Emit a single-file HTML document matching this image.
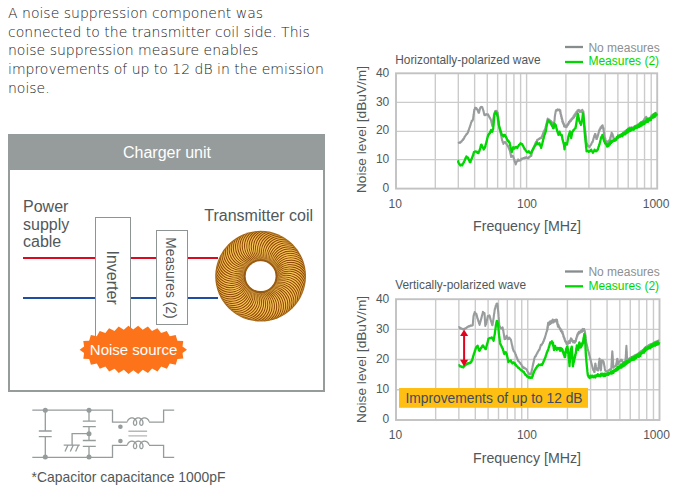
<!DOCTYPE html>
<html><head><meta charset="utf-8"><style>
html,body{margin:0;padding:0;background:#fff;}
body{width:679px;height:487px;position:relative;overflow:hidden;}
.t{position:absolute;white-space:nowrap;font-family:"Liberation Sans",Arial,sans-serif;}
#intro{position:absolute;left:8px;top:3.8px;font-family:"DejaVu Sans",sans-serif;font-weight:200;font-size:14px;line-height:18.85px;color:#222;white-space:nowrap;}
svg{position:absolute;left:0;top:0;}
</style></head><body>
<div id="intro">A noise suppression component was<br>connected to the transmitter coil side. This<br>noise suppression measure enables<br>improvements of up to 12 dB in the emission<br>noise.</div>
<svg width="679" height="487" viewBox="0 0 679 487">
<defs>
<radialGradient id="tg" cx="260.6" cy="276.2" r="45.4" gradientUnits="userSpaceOnUse">
<stop offset="0.33" stop-color="#8a4a08"/>
<stop offset="0.37" stop-color="#a86414"/>
<stop offset="0.44" stop-color="#e8a23a"/>
<stop offset="0.62" stop-color="#fdc555"/>
<stop offset="0.86" stop-color="#f0ac40"/>
<stop offset="0.96" stop-color="#c8862a"/>
<stop offset="1" stop-color="#9a5a10"/>
</radialGradient>
<mask id="tm"><rect width="679" height="487" fill="#000"/><circle cx="260.6" cy="276.2" r="45.4" fill="#fff"/><circle cx="260.6" cy="276.2" r="14.9" fill="#000"/></mask>
</defs>
<!-- charger box -->
<rect x="9" y="135" width="315" height="256" fill="none" stroke="#969c9b" stroke-width="2"/>
<rect x="8" y="134" width="317" height="36" fill="#969c9b"/>
<!-- wires -->
<g stroke-width="2" fill="none">
<path d="M23 258H95.5M130.5 258H156.5M187.5 258H218" stroke="#dc0a1e"/>
<path d="M23 298H95.5M130.5 298H156.5M187.5 298H218" stroke="#1f4ea0"/>
</g>
<rect x="95.5" y="217.5" width="35" height="130" fill="#fff" stroke="#8e9393" stroke-width="1"/>
<rect x="156.5" y="230.5" width="31" height="94" fill="#fff" stroke="#8e9393" stroke-width="1"/>
<polygon points="187.00,349.80 182.49,352.99 183.32,358.60 177.44,358.92 175.73,364.63 169.82,363.40 166.88,368.69 161.23,366.52 157.53,371.40 152.10,368.61 147.96,373.08 142.80,369.81 138.19,373.90 133.38,370.20 128.50,373.90 123.88,369.81 118.72,373.09 114.58,368.63 109.15,371.41 105.44,366.54 99.79,368.71 96.83,363.42 90.92,364.66 89.19,358.95 83.31,358.64 84.12,353.01 79.60,349.84 84.11,346.61 83.28,341.00 89.16,340.68 90.87,334.97 96.78,336.20 99.72,330.91 105.37,333.08 109.07,328.20 114.50,330.99 118.64,326.52 123.80,329.79 128.41,325.70 133.22,329.40 138.10,325.70 142.72,329.79 147.88,326.51 152.02,330.97 157.45,328.19 161.16,333.06 166.81,330.89 169.77,336.18 175.68,334.94 177.41,340.65 183.29,340.96 182.48,346.59" fill="#fc731a"/>
<!-- torus -->
<g mask="url(#tm)">
<circle cx="260.6" cy="276.2" r="45.4" fill="url(#tg)"/>
<path d="M274.50 276.20A17 17 0 0 1 304.19 260.29M274.46 277.24A17 17 0 0 1 305.25 263.59M274.34 278.27A17 17 0 0 1 306.07 266.96M274.15 279.29A17 17 0 0 1 306.63 270.39M273.88 280.30A17 17 0 0 1 306.94 273.84M273.54 281.28A17 17 0 0 1 306.99 277.31M273.12 282.23A17 17 0 0 1 306.77 280.78M272.64 283.15A17 17 0 0 1 306.30 284.21M272.08 284.03A17 17 0 0 1 305.58 287.61M271.47 284.87A17 17 0 0 1 304.60 290.94M270.79 285.65A17 17 0 0 1 303.37 294.18M270.05 286.39A17 17 0 0 1 301.91 297.33M269.27 287.07A17 17 0 0 1 300.22 300.36M268.43 287.68A17 17 0 0 1 298.30 303.25M267.55 288.24A17 17 0 0 1 296.17 305.99M266.63 288.72A17 17 0 0 1 293.85 308.57M265.68 289.14A17 17 0 0 1 291.33 310.96M264.70 289.48A17 17 0 0 1 288.65 313.16M263.69 289.75A17 17 0 0 1 285.81 315.15M262.67 289.94A17 17 0 0 1 282.83 316.93M261.64 290.06A17 17 0 0 1 279.72 318.48M260.60 290.10A17 17 0 0 1 276.51 319.79M259.56 290.06A17 17 0 0 1 273.21 320.85M258.53 289.94A17 17 0 0 1 269.84 321.67M257.51 289.75A17 17 0 0 1 266.41 322.23M256.50 289.48A17 17 0 0 1 262.96 322.54M255.52 289.14A17 17 0 0 1 259.49 322.59M254.57 288.72A17 17 0 0 1 256.02 322.37M253.65 288.24A17 17 0 0 1 252.59 321.90M252.77 287.68A17 17 0 0 1 249.19 321.18M251.93 287.07A17 17 0 0 1 245.86 320.20M251.15 286.39A17 17 0 0 1 242.62 318.97M250.41 285.65A17 17 0 0 1 239.47 317.51M249.73 284.87A17 17 0 0 1 236.44 315.82M249.12 284.03A17 17 0 0 1 233.55 313.90M248.56 283.15A17 17 0 0 1 230.81 311.77M248.08 282.23A17 17 0 0 1 228.23 309.45M247.66 281.28A17 17 0 0 1 225.84 306.93M247.32 280.30A17 17 0 0 1 223.64 304.25M247.05 279.29A17 17 0 0 1 221.65 301.41M246.86 278.27A17 17 0 0 1 219.87 298.43M246.74 277.24A17 17 0 0 1 218.32 295.32M246.70 276.20A17 17 0 0 1 217.01 292.11M246.74 275.16A17 17 0 0 1 215.95 288.81M246.86 274.13A17 17 0 0 1 215.13 285.44M247.05 273.11A17 17 0 0 1 214.57 282.01M247.32 272.10A17 17 0 0 1 214.26 278.56M247.66 271.12A17 17 0 0 1 214.21 275.09M248.08 270.17A17 17 0 0 1 214.43 271.62M248.56 269.25A17 17 0 0 1 214.90 268.19M249.12 268.37A17 17 0 0 1 215.62 264.79M249.73 267.53A17 17 0 0 1 216.60 261.46M250.41 266.75A17 17 0 0 1 217.83 258.22M251.15 266.01A17 17 0 0 1 219.29 255.07M251.93 265.33A17 17 0 0 1 220.98 252.04M252.77 264.72A17 17 0 0 1 222.90 249.15M253.65 264.16A17 17 0 0 1 225.03 246.41M254.57 263.68A17 17 0 0 1 227.35 243.83M255.52 263.26A17 17 0 0 1 229.87 241.44M256.50 262.92A17 17 0 0 1 232.55 239.24M257.51 262.65A17 17 0 0 1 235.39 237.25M258.53 262.46A17 17 0 0 1 238.37 235.47M259.56 262.34A17 17 0 0 1 241.48 233.92M260.60 262.30A17 17 0 0 1 244.69 232.61M261.64 262.34A17 17 0 0 1 247.99 231.55M262.67 262.46A17 17 0 0 1 251.36 230.73M263.69 262.65A17 17 0 0 1 254.79 230.17M264.70 262.92A17 17 0 0 1 258.24 229.86M265.68 263.26A17 17 0 0 1 261.71 229.81M266.63 263.68A17 17 0 0 1 265.18 230.03M267.55 264.16A17 17 0 0 1 268.61 230.50M268.43 264.72A17 17 0 0 1 272.01 231.22M269.27 265.33A17 17 0 0 1 275.34 232.20M270.05 266.01A17 17 0 0 1 278.58 233.43M270.79 266.75A17 17 0 0 1 281.73 234.89M271.47 267.53A17 17 0 0 1 284.76 236.58M272.08 268.37A17 17 0 0 1 287.65 238.50M272.64 269.25A17 17 0 0 1 290.39 240.63M273.12 270.17A17 17 0 0 1 292.97 242.95M273.54 271.12A17 17 0 0 1 295.36 245.47M273.88 272.10A17 17 0 0 1 297.56 248.15M274.15 273.11A17 17 0 0 1 299.55 250.99M274.34 274.13A17 17 0 0 1 301.33 253.97M274.46 275.16A17 17 0 0 1 302.88 257.08" fill="none" stroke="#8e4a06" stroke-width="1.2"/>
<g transform="rotate(2.1 260.6 276.2)"><path d="M274.50 276.20A17 17 0 0 1 304.19 260.29M274.46 277.24A17 17 0 0 1 305.25 263.59M274.34 278.27A17 17 0 0 1 306.07 266.96M274.15 279.29A17 17 0 0 1 306.63 270.39M273.88 280.30A17 17 0 0 1 306.94 273.84M273.54 281.28A17 17 0 0 1 306.99 277.31M273.12 282.23A17 17 0 0 1 306.77 280.78M272.64 283.15A17 17 0 0 1 306.30 284.21M272.08 284.03A17 17 0 0 1 305.58 287.61M271.47 284.87A17 17 0 0 1 304.60 290.94M270.79 285.65A17 17 0 0 1 303.37 294.18M270.05 286.39A17 17 0 0 1 301.91 297.33M269.27 287.07A17 17 0 0 1 300.22 300.36M268.43 287.68A17 17 0 0 1 298.30 303.25M267.55 288.24A17 17 0 0 1 296.17 305.99M266.63 288.72A17 17 0 0 1 293.85 308.57M265.68 289.14A17 17 0 0 1 291.33 310.96M264.70 289.48A17 17 0 0 1 288.65 313.16M263.69 289.75A17 17 0 0 1 285.81 315.15M262.67 289.94A17 17 0 0 1 282.83 316.93M261.64 290.06A17 17 0 0 1 279.72 318.48M260.60 290.10A17 17 0 0 1 276.51 319.79M259.56 290.06A17 17 0 0 1 273.21 320.85M258.53 289.94A17 17 0 0 1 269.84 321.67M257.51 289.75A17 17 0 0 1 266.41 322.23M256.50 289.48A17 17 0 0 1 262.96 322.54M255.52 289.14A17 17 0 0 1 259.49 322.59M254.57 288.72A17 17 0 0 1 256.02 322.37M253.65 288.24A17 17 0 0 1 252.59 321.90M252.77 287.68A17 17 0 0 1 249.19 321.18M251.93 287.07A17 17 0 0 1 245.86 320.20M251.15 286.39A17 17 0 0 1 242.62 318.97M250.41 285.65A17 17 0 0 1 239.47 317.51M249.73 284.87A17 17 0 0 1 236.44 315.82M249.12 284.03A17 17 0 0 1 233.55 313.90M248.56 283.15A17 17 0 0 1 230.81 311.77M248.08 282.23A17 17 0 0 1 228.23 309.45M247.66 281.28A17 17 0 0 1 225.84 306.93M247.32 280.30A17 17 0 0 1 223.64 304.25M247.05 279.29A17 17 0 0 1 221.65 301.41M246.86 278.27A17 17 0 0 1 219.87 298.43M246.74 277.24A17 17 0 0 1 218.32 295.32M246.70 276.20A17 17 0 0 1 217.01 292.11M246.74 275.16A17 17 0 0 1 215.95 288.81M246.86 274.13A17 17 0 0 1 215.13 285.44M247.05 273.11A17 17 0 0 1 214.57 282.01M247.32 272.10A17 17 0 0 1 214.26 278.56M247.66 271.12A17 17 0 0 1 214.21 275.09M248.08 270.17A17 17 0 0 1 214.43 271.62M248.56 269.25A17 17 0 0 1 214.90 268.19M249.12 268.37A17 17 0 0 1 215.62 264.79M249.73 267.53A17 17 0 0 1 216.60 261.46M250.41 266.75A17 17 0 0 1 217.83 258.22M251.15 266.01A17 17 0 0 1 219.29 255.07M251.93 265.33A17 17 0 0 1 220.98 252.04M252.77 264.72A17 17 0 0 1 222.90 249.15M253.65 264.16A17 17 0 0 1 225.03 246.41M254.57 263.68A17 17 0 0 1 227.35 243.83M255.52 263.26A17 17 0 0 1 229.87 241.44M256.50 262.92A17 17 0 0 1 232.55 239.24M257.51 262.65A17 17 0 0 1 235.39 237.25M258.53 262.46A17 17 0 0 1 238.37 235.47M259.56 262.34A17 17 0 0 1 241.48 233.92M260.60 262.30A17 17 0 0 1 244.69 232.61M261.64 262.34A17 17 0 0 1 247.99 231.55M262.67 262.46A17 17 0 0 1 251.36 230.73M263.69 262.65A17 17 0 0 1 254.79 230.17M264.70 262.92A17 17 0 0 1 258.24 229.86M265.68 263.26A17 17 0 0 1 261.71 229.81M266.63 263.68A17 17 0 0 1 265.18 230.03M267.55 264.16A17 17 0 0 1 268.61 230.50M268.43 264.72A17 17 0 0 1 272.01 231.22M269.27 265.33A17 17 0 0 1 275.34 232.20M270.05 266.01A17 17 0 0 1 278.58 233.43M270.79 266.75A17 17 0 0 1 281.73 234.89M271.47 267.53A17 17 0 0 1 284.76 236.58M272.08 268.37A17 17 0 0 1 287.65 238.50M272.64 269.25A17 17 0 0 1 290.39 240.63M273.12 270.17A17 17 0 0 1 292.97 242.95M273.54 271.12A17 17 0 0 1 295.36 245.47M273.88 272.10A17 17 0 0 1 297.56 248.15M274.15 273.11A17 17 0 0 1 299.55 250.99M274.34 274.13A17 17 0 0 1 301.33 253.97M274.46 275.16A17 17 0 0 1 302.88 257.08" fill="none" stroke="#ffd870" stroke-width="0.7" opacity="0.7"/></g>
<circle cx="260.6" cy="276.2" r="15.9" fill="none" stroke="#8a4a08" stroke-width="2.2" opacity="0.75"/>
<circle cx="260.6" cy="276.2" r="44.8" fill="none" stroke="#9a5a10" stroke-width="1.4" opacity="0.6"/>
</g>
<!-- schematic -->
<g stroke="#969b9b" stroke-width="1.3" fill="none">
<path d="M32.3 410.2H112.5V422.2H127.4M149 422.2H163.6V410.2H174.2"/>
<path d="M32.3 457.4H112.5V445.4H127.4M149 445.4H163.6V457.4H174.2"/>
<path d="M45.3 410.2V431M45.3 436.6V457.4M38.8 431H51.7M38.8 436.6H51.7"/>
<path d="M89 410.2V421.2M89 426.6V440.5M89 446.3V457.4M82.8 421.2H95.8M82.8 426.6H95.8M82.8 440.5H95.8M82.8 446.3H95.8"/>
<path d="M89 433.7H72.1V445.1M63.7 445.1H79.8M65 451.6L68 445.1M70.3 451.6L73.3 445.1M75.6 451.6L78.6 445.1"/>
<polyline points="127.37,421.60 127.46,421.31 127.56,421.02 127.69,420.74 127.83,420.46 127.99,420.18 128.17,419.92 128.36,419.67 128.57,419.43 128.80,419.20 129.03,418.98 129.29,418.79 129.55,418.61 129.82,418.45 130.11,418.30 130.40,418.18 130.70,418.08 131.01,418.00 131.32,417.95 131.63,417.91 131.94,417.90 132.26,417.91 132.57,417.95 132.88,418.00 133.18,418.08 133.48,418.18 133.77,418.30 134.06,418.45 134.33,418.61 134.60,418.79 134.85,418.98 135.09,419.20 135.31,419.43 135.52,419.67 135.71,419.92 135.89,420.18 136.05,420.46 136.19,420.74 136.32,421.02 136.42,421.31 136.51,421.60 136.58,421.89 136.63,422.18 136.67,422.46 136.68,422.74 136.68,423.02 136.66,423.28 136.62,423.53 136.57,423.77 136.50,424.00 136.42,424.22 136.32,424.41 136.22,424.59 136.10,424.75 135.97,424.90 135.84,425.02 135.70,425.12 135.55,425.20 135.40,425.25 135.24,425.29 135.08,425.30 134.93,425.29 134.77,425.25 134.62,425.20 134.47,425.12 134.33,425.02 134.19,424.90 134.07,424.75 133.95,424.59 133.84,424.41 133.75,424.22 133.67,424.00 133.60,423.77 133.55,423.53 133.51,423.28 133.49,423.02 133.49,422.74 133.50,422.46 133.53,422.18 133.58,421.89 133.65,421.60 133.74,421.31 133.85,421.02 133.97,420.74 134.11,420.46 134.28,420.18 134.45,419.92 134.65,419.67 134.86,419.43 135.08,419.20 135.32,418.98 135.57,418.79 135.83,418.61 136.11,418.45 136.39,418.30 136.68,418.18 136.98,418.08 137.29,418.00 137.60,417.95 137.91,417.91 138.22,417.90 138.54,417.91 138.85,417.95 139.16,418.00 139.47,418.08 139.77,418.18 140.06,418.30 140.34,418.45 140.62,418.61 140.88,418.79 141.13,418.98 141.37,419.20 141.59,419.43 141.80,419.67 142.00,419.92 142.17,420.18 142.33,420.46 142.48,420.74 142.60,421.02 142.71,421.31 142.80,421.60 142.86,421.89 142.92,422.18 142.95,422.46 142.96,422.74 142.96,423.02 142.94,423.28 142.90,423.53 142.85,423.77 142.78,424.00 142.70,424.22 142.61,424.41 142.50,424.59 142.38,424.75 142.26,424.90 142.12,425.02 141.98,425.12 141.83,425.20 141.68,425.25 141.52,425.29 141.37,425.30 141.21,425.29 141.05,425.25 140.90,425.20 140.75,425.12 140.61,425.02 140.48,424.90 140.35,424.75 140.23,424.59 140.12,424.41 140.03,424.22 139.95,424.00 139.88,423.77 139.83,423.53 139.79,423.28 139.77,423.02 139.77,422.74 139.78,422.46 139.82,422.18 139.87,421.89 139.94,421.60 140.02,421.31 140.13,421.02 140.26,420.74 140.40,420.46 140.56,420.18 140.74,419.92 140.93,419.67 141.14,419.43 141.36,419.20 141.60,418.98 141.85,418.79 142.12,418.61 142.39,418.45 142.67,418.30 142.97,418.18 143.27,418.08 143.57,418.00 143.88,417.95 144.19,417.91 144.51,417.90 144.82,417.91 145.13,417.95 145.44,418.00 145.75,418.08 146.05,418.18 146.34,418.30 146.63,418.45 146.90,418.61 147.16,418.79 147.41,418.98 147.65,419.20 147.88,419.43 148.09,419.67 148.28,419.92 148.46,420.18 148.62,420.46 148.76,420.74 148.88,421.02 148.99,421.31 149.08,421.60"/>
<polyline points="127.37,444.90 127.46,444.61 127.56,444.32 127.69,444.04 127.83,443.76 127.99,443.48 128.17,443.22 128.36,442.97 128.57,442.73 128.80,442.50 129.03,442.28 129.29,442.09 129.55,441.91 129.82,441.75 130.11,441.60 130.40,441.48 130.70,441.38 131.01,441.30 131.32,441.25 131.63,441.21 131.94,441.20 132.26,441.21 132.57,441.25 132.88,441.30 133.18,441.38 133.48,441.48 133.77,441.60 134.06,441.75 134.33,441.91 134.60,442.09 134.85,442.28 135.09,442.50 135.31,442.73 135.52,442.97 135.71,443.22 135.89,443.48 136.05,443.76 136.19,444.04 136.32,444.32 136.42,444.61 136.51,444.90 136.58,445.19 136.63,445.48 136.67,445.76 136.68,446.04 136.68,446.32 136.66,446.58 136.62,446.83 136.57,447.07 136.50,447.30 136.42,447.52 136.32,447.71 136.22,447.89 136.10,448.05 135.97,448.20 135.84,448.32 135.70,448.42 135.55,448.50 135.40,448.55 135.24,448.59 135.08,448.60 134.93,448.59 134.77,448.55 134.62,448.50 134.47,448.42 134.33,448.32 134.19,448.20 134.07,448.05 133.95,447.89 133.84,447.71 133.75,447.52 133.67,447.30 133.60,447.07 133.55,446.83 133.51,446.58 133.49,446.32 133.49,446.04 133.50,445.76 133.53,445.48 133.58,445.19 133.65,444.90 133.74,444.61 133.85,444.32 133.97,444.04 134.11,443.76 134.28,443.48 134.45,443.22 134.65,442.97 134.86,442.73 135.08,442.50 135.32,442.28 135.57,442.09 135.83,441.91 136.11,441.75 136.39,441.60 136.68,441.48 136.98,441.38 137.29,441.30 137.60,441.25 137.91,441.21 138.22,441.20 138.54,441.21 138.85,441.25 139.16,441.30 139.47,441.38 139.77,441.48 140.06,441.60 140.34,441.75 140.62,441.91 140.88,442.09 141.13,442.28 141.37,442.50 141.59,442.73 141.80,442.97 142.00,443.22 142.17,443.48 142.33,443.76 142.48,444.04 142.60,444.32 142.71,444.61 142.80,444.90 142.86,445.19 142.92,445.48 142.95,445.76 142.96,446.04 142.96,446.32 142.94,446.58 142.90,446.83 142.85,447.07 142.78,447.30 142.70,447.52 142.61,447.71 142.50,447.89 142.38,448.05 142.26,448.20 142.12,448.32 141.98,448.42 141.83,448.50 141.68,448.55 141.52,448.59 141.37,448.60 141.21,448.59 141.05,448.55 140.90,448.50 140.75,448.42 140.61,448.32 140.48,448.20 140.35,448.05 140.23,447.89 140.12,447.71 140.03,447.52 139.95,447.30 139.88,447.07 139.83,446.83 139.79,446.58 139.77,446.32 139.77,446.04 139.78,445.76 139.82,445.48 139.87,445.19 139.94,444.90 140.02,444.61 140.13,444.32 140.26,444.04 140.40,443.76 140.56,443.48 140.74,443.22 140.93,442.97 141.14,442.73 141.36,442.50 141.60,442.28 141.85,442.09 142.12,441.91 142.39,441.75 142.67,441.60 142.97,441.48 143.27,441.38 143.57,441.30 143.88,441.25 144.19,441.21 144.51,441.20 144.82,441.21 145.13,441.25 145.44,441.30 145.75,441.38 146.05,441.48 146.34,441.60 146.63,441.75 146.90,441.91 147.16,442.09 147.41,442.28 147.65,442.50 147.88,442.73 148.09,442.97 148.28,443.22 148.46,443.48 148.62,443.76 148.76,444.04 148.88,444.32 148.99,444.61 149.08,444.90"/>
</g>
<g stroke="#b4b8b8" stroke-width="1.4"><path d="M128.4 431.3H147.1M128.4 435.9H147.1"/></g>
<g fill="#969b9b">
<circle cx="45.3" cy="410.2" r="2.5"/><circle cx="89" cy="410.2" r="2.5"/>
<circle cx="45.3" cy="457" r="2.5"/><circle cx="89" cy="457" r="2.5"/>
<circle cx="89" cy="433.7" r="2.5"/>
<circle cx="120.4" cy="426.8" r="2.3"/><circle cx="120.4" cy="441" r="2.3"/>
</g>
<!-- chart 1 -->
<g stroke="#cbcbcb" stroke-width="1.4"><line x1="435.31" y1="73.3" x2="435.31" y2="188.6"/><line x1="458.31" y1="73.3" x2="458.31" y2="188.6"/><line x1="474.63" y1="73.3" x2="474.63" y2="188.6"/><line x1="487.29" y1="73.3" x2="487.29" y2="188.6"/><line x1="497.63" y1="73.3" x2="497.63" y2="188.6"/><line x1="506.37" y1="73.3" x2="506.37" y2="188.6"/><line x1="513.94" y1="73.3" x2="513.94" y2="188.6"/><line x1="520.62" y1="73.3" x2="520.62" y2="188.6"/><line x1="565.91" y1="73.3" x2="565.91" y2="188.6"/><line x1="588.91" y1="73.3" x2="588.91" y2="188.6"/><line x1="605.23" y1="73.3" x2="605.23" y2="188.6"/><line x1="617.89" y1="73.3" x2="617.89" y2="188.6"/><line x1="628.23" y1="73.3" x2="628.23" y2="188.6"/><line x1="636.97" y1="73.3" x2="636.97" y2="188.6"/><line x1="644.54" y1="73.3" x2="644.54" y2="188.6"/><line x1="651.22" y1="73.3" x2="651.22" y2="188.6"/><line x1="526.60" y1="73.3" x2="526.60" y2="188.6"/><line x1="396.0" y1="102.4" x2="657.2" y2="102.4"/><line x1="396.0" y1="131.4" x2="657.2" y2="131.4"/><line x1="396.0" y1="159.6" x2="657.2" y2="159.6"/></g><rect x="396.0" y="73.3" width="261.20" height="115.30" fill="none" stroke="#c2c2c2" stroke-width="1.9"/>
<polyline points="458.2,143.4 459.2,142.4 460.3,142.8 461.0,141.5 461.6,141.6 462.3,140.3 462.9,140.1 463.4,138.7 464.0,138.6 464.5,136.9 465.0,136.7 465.5,135.5 466.0,135.1 466.6,133.8 467.2,133.9 467.8,132.6 468.1,132.5 468.3,130.7 468.6,130.7 468.9,129.2 469.2,128.9 469.4,127.8 469.7,127.4 470.0,126.1 470.3,125.7 470.6,124.4 470.8,123.9 471.1,122.6 471.4,122.4 471.7,120.9 472.4,120.8 473.0,119.3 473.1,119.2 473.2,117.7 473.3,117.5 473.4,116.2 473.5,116.1 473.6,114.3 473.8,114.4 473.9,112.7 474.0,112.5 474.1,111.2 474.2,110.9 474.3,109.6 474.7,109.4 475.1,107.8 475.5,107.7 476.3,107.9 477.1,109.5 477.4,109.4 477.8,110.8 478.1,111.2 478.5,112.7 478.8,112.8 479.0,112.8 479.3,111.2 479.5,110.8 479.7,109.4 479.9,109.4 480.2,107.9 480.4,107.5 481.2,106.8 482.0,107.3 482.3,107.1 482.6,108.5 482.8,108.8 483.1,110.0 483.4,110.4 483.6,111.8 483.8,112.0 483.9,113.4 484.1,113.6 484.3,114.9 484.5,115.1 485.4,115.1 486.2,114.0 487.1,114.7 488.1,114.4 488.6,115.8 489.0,116.1 489.5,117.7 489.9,117.6 490.3,119.1 490.7,119.2 491.1,120.7 491.3,121.0 491.5,122.6 491.7,122.6 491.8,123.9 492.0,124.1 492.2,125.6 492.4,126.0 492.5,125.8 492.6,124.3 492.7,124.0 492.9,122.7 493.0,122.3 493.1,120.9 493.2,120.7 493.3,119.3 493.4,119.1 493.5,117.7 493.7,117.6 493.8,116.0 493.9,115.9 494.0,114.2 494.3,114.1 494.6,112.8 494.9,112.7 495.2,111.0 496.4,110.8 496.8,111.2 497.3,112.7 497.7,112.6 497.8,114.1 497.9,114.3 498.0,116.0 498.1,116.0 498.2,117.5 498.3,117.9 498.4,119.0 498.5,119.2 498.6,120.8 498.7,120.9 498.7,122.4 498.8,122.5 498.9,124.2 499.0,124.4 499.1,125.7 499.1,125.9 499.2,127.3 499.3,127.7 499.5,129.1 499.7,129.1 499.9,130.7 500.1,131.0 500.4,132.5 500.6,132.6 500.8,133.8 501.0,134.3 501.2,135.6 501.3,136.0 501.5,137.1 501.6,137.5 501.8,138.9 502.0,139.2 502.1,140.5 502.3,140.5 502.7,142.3 503.0,142.3 503.4,143.9 504.2,142.3 505.1,142.1 505.6,142.5 506.1,143.7 506.6,143.8 507.2,145.5 507.7,145.5 508.3,147.0 508.6,147.2 508.9,148.8 509.3,148.9 509.6,150.3 509.9,150.4 510.1,151.9 510.3,152.2 510.5,153.8 510.6,153.7 510.8,155.4 511.0,155.4 511.2,157.0 512.0,155.7 512.9,156.1 513.2,156.2 513.5,157.9 513.7,157.8 514.0,159.4 514.3,159.5 514.6,161.2 514.9,161.2 515.1,162.7 515.4,162.9 515.7,164.4 516.1,162.8 516.4,162.6 516.8,161.2 517.5,161.2 518.2,159.4 519.0,160.8 519.8,160.5 520.6,160.4 521.4,158.7 522.2,159.1 523.1,158.1 523.9,158.5 524.7,157.6 525.6,157.9 526.4,157.1 527.2,158.2 528.0,158.1 528.6,158.1 529.1,156.8 529.7,157.0 530.5,155.7 531.3,156.0 531.5,154.8 531.6,154.4 531.8,153.0 531.9,152.7 532.1,151.5 532.4,151.3 532.8,149.7 533.1,149.5 533.5,148.0 533.8,147.9 534.1,146.4 534.4,146.2 534.8,144.8 535.1,144.8 535.4,143.0 535.8,143.1 536.2,141.6 536.7,141.4 537.1,139.9 537.9,139.9 538.7,138.8 539.5,139.0 540.5,137.7 541.5,138.1 541.8,136.4 542.1,136.3 542.4,135.0 542.7,134.8 543.0,133.4 543.3,133.0 543.6,131.7 544.0,131.5 544.5,130.0 544.9,129.8 545.3,128.3 545.5,128.4 545.7,126.7 545.9,126.4 546.1,125.2 546.3,125.0 546.5,123.6 546.7,123.3 546.9,121.8 547.1,121.5 547.3,120.0 547.5,119.8 547.7,118.6 548.5,119.6 549.4,119.5 550.2,120.9 551.0,121.1 551.6,122.1 552.1,122.3 552.7,123.4 552.8,123.5 553.0,125.0 553.1,125.1 553.2,126.7 553.4,126.6 553.5,128.3 553.6,126.9 553.7,126.6 553.8,125.2 554.0,124.7 554.1,123.4 554.2,123.3 554.3,121.9 554.4,121.5 554.5,120.2 554.6,120.0 554.7,118.5 554.7,118.4 554.8,116.8 554.9,116.6 555.0,115.1 555.1,115.2 555.3,113.7 555.4,113.5 555.6,111.8 555.7,111.6 555.9,110.3 556.8,110.6 557.6,109.3 558.4,110.1 559.2,109.5 560.1,111.7 560.3,110.4 560.4,113.4 560.6,112.3 560.7,114.8 560.9,114.2 561.1,116.5 561.3,115.3 561.5,118.1 561.7,117.0 561.9,119.4 562.1,118.5 562.3,121.7 562.5,120.1 562.8,122.9 563.1,121.9 563.5,124.4 563.8,123.5 564.1,126.5 564.7,125.3 565.2,127.0 565.8,126.4 566.6,127.1 567.4,124.4 567.8,125.3 568.2,123.4 568.6,124.0 569.0,121.7 569.6,122.5 570.2,120.4 570.9,120.9 571.5,118.7 572.0,119.5 572.5,117.9 573.0,118.5 573.5,116.1 574.0,117.5 574.5,114.6 575.0,115.9 575.4,113.2 575.9,114.3 576.4,111.9 577.0,112.3 577.5,110.4 578.1,111.2 578.9,109.9 579.7,112.0 580.5,110.6 581.4,112.1 582.2,109.8 583.3,112.0 583.4,111.5 583.4,114.1 583.5,112.8 583.5,115.2 583.6,114.5 583.7,117.5 583.7,116.4 583.8,118.8 583.9,118.3 583.9,120.5 584.0,119.7 584.0,121.7 584.1,122.0 584.2,123.4 584.2,123.4 584.3,124.9 584.4,125.0 584.5,126.6 584.7,126.7 584.8,128.3 584.9,128.5 585.0,129.9 585.1,130.0 585.3,131.6 585.4,131.5 585.5,133.0 585.6,133.3 585.7,134.6 585.8,135.0 585.9,136.5 586.0,136.5 586.0,138.1 586.1,138.3 586.2,139.6 586.3,139.9 586.4,141.5 586.5,141.7 586.6,143.1 586.9,143.4 587.2,144.6 587.6,144.9 587.9,146.4 588.8,146.1 589.6,147.1 590.1,145.6 590.7,145.3 591.2,143.9 591.6,143.7 592.0,142.3 592.5,142.1 592.9,140.8 593.1,140.5 593.3,139.1 593.5,138.8 593.8,137.4 594.0,137.3 594.2,135.9 594.6,135.5 594.9,134.1 595.3,134.0 595.5,134.1 595.6,135.7 595.8,135.7 596.0,137.4 596.2,137.5 596.3,139.0 596.5,139.0 596.8,139.0 597.1,137.5 597.5,137.2 597.8,135.6 598.0,135.5 598.2,134.0 598.4,134.1 598.6,132.6 598.9,132.2 599.1,130.7 599.3,130.6 599.5,129.3 600.0,129.8 600.6,127.2 601.1,128.1 601.8,125.8 602.4,126.1 602.6,125.3 602.9,127.4 603.1,127.3 603.4,129.6 603.6,128.4 603.7,131.5 603.8,130.7 603.9,132.8 604.0,131.8 604.1,134.4 604.2,133.5 604.3,135.8 604.4,135.7 604.6,137.4 604.8,137.3 605.0,139.4 605.3,138.6 605.5,141.0 605.7,140.5 606.4,142.1 607.0,141.6 607.7,143.8 608.5,140.7 609.3,142.1 609.6,139.7 610.0,139.8 610.3,137.4 610.6,138.4 610.8,135.9 611.0,136.7 611.2,134.5 611.4,135.2 611.6,132.9 611.8,133.7 612.1,133.3 612.3,135.4 612.6,134.2 612.9,136.6 613.2,136.2 613.5,138.7 613.7,137.9 614.0,139.9 614.3,139.7 615.1,140.6 615.9,139.0 616.7,139.7 617.5,136.7 618.3,138.1 619.2,135.6 620.0,137.0 620.6,134.9 621.3,135.9 621.9,133.8 622.6,135.2 623.2,132.5 623.8,133.6 624.5,131.4 625.1,133.0 625.8,130.5 626.4,132.0 627.1,129.8 627.7,131.1 628.4,128.4 629.0,129.9 629.7,127.5 630.5,129.3 631.4,127.4 632.2,128.9 633.0,127.3 633.8,127.9 634.6,126.1 635.5,126.9 636.3,125.4 637.1,126.6 638.0,124.4 638.8,125.4 639.6,123.2 640.3,124.8 640.9,122.8 641.6,123.8 642.2,121.6 642.9,122.7 643.4,120.5 643.8,121.8 644.3,119.0 644.8,120.2 645.3,117.5 645.7,119.1 646.2,116.8 646.5,118.9 646.9,117.8 647.2,120.1 647.5,119.6 648.2,120.2 648.8,118.7 649.5,119.4 650.1,117.6 650.8,118.0 651.4,115.6 652.1,116.9 652.7,114.6 653.4,116.2 654.1,113.7 654.8,115.3 655.5,112.8 656.2,114.4 656.9,112.9" fill="none" stroke="#989c9c" stroke-width="2.1" stroke-linejoin="round"/>
<polyline points="457.8,160.3 458.1,160.6 458.3,162.3 458.6,162.7 459.2,163.9 459.7,164.2 460.3,165.5 461.3,164.7 462.3,165.3 462.7,163.8 463.1,163.8 463.6,162.3 464.0,162.1 464.4,160.9 464.7,160.7 465.1,159.2 465.4,159.1 465.7,157.8 466.1,157.6 466.4,156.3 467.2,157.6 468.1,157.6 468.4,159.1 468.8,159.3 469.1,160.4 469.4,160.5 469.8,162.1 470.1,162.3 470.5,162.2 470.8,160.4 471.1,160.2 471.5,158.9 471.9,158.5 472.2,157.2 472.5,157.1 472.8,155.7 473.1,155.5 473.3,154.1 473.6,153.6 473.9,152.2 474.2,152.1 475.2,151.3 476.3,151.8 477.0,151.7 477.6,153.0 478.3,153.2 478.6,153.0 479.0,151.3 479.3,151.4 479.7,149.7 480.0,149.6 480.2,148.2 480.4,148.0 480.6,146.4 480.8,146.2 481.0,144.9 481.2,144.6 481.6,144.8 482.1,146.4 482.5,146.5 482.9,147.8 483.3,148.0 483.7,149.5 484.3,148.1 484.9,147.8 485.1,146.5 485.4,146.3 485.6,144.7 485.8,144.5 486.0,143.2 486.3,142.9 486.5,141.5 486.7,141.2 486.9,140.0 487.1,139.7 487.3,138.2 487.5,137.9 487.7,136.6 487.9,136.3 488.1,135.1 488.7,134.9 489.2,133.3 489.8,133.4 490.2,131.7 490.7,131.4 491.1,129.8 491.6,131.4 492.1,131.8 492.4,131.6 492.6,129.9 492.9,129.7 493.2,128.5 493.3,128.3 493.3,126.8 493.4,126.5 493.5,125.3 493.6,124.7 493.6,123.4 493.7,123.4 493.8,121.6 493.8,121.6 493.9,120.3 494.0,119.9 494.0,118.4 494.1,118.4 494.2,116.8 494.3,116.6 494.3,115.2 494.4,115.0 494.8,113.5 495.1,113.3 495.5,111.8 496.5,113.3 496.7,113.5 497.0,114.8 497.2,115.0 497.5,116.6 497.7,116.7 497.8,118.4 497.9,118.5 498.0,120.1 498.1,120.3 498.3,121.6 498.4,121.9 498.5,123.3 498.6,123.4 498.7,124.8 498.9,125.0 499.2,126.5 499.4,126.8 499.6,128.2 499.9,128.2 500.1,129.8 500.4,130.0 500.7,131.6 501.0,131.5 501.2,133.2 501.5,133.4 501.8,134.9 502.6,134.8 503.4,136.5 504.0,134.9 504.6,134.8 505.0,135.0 505.5,136.5 505.9,136.6 506.3,137.9 506.7,138.2 507.1,139.8 507.5,139.8 508.0,141.3 508.6,141.0 509.1,142.4 509.6,142.3 509.8,143.8 509.9,144.1 510.1,145.4 510.3,145.7 510.5,147.2 510.6,147.2 510.8,148.7 511.1,148.9 511.4,150.2 511.6,150.5 511.9,152.1 512.2,150.6 512.4,150.3 512.7,148.9 512.9,148.7 513.2,147.2 514.5,148.6 515.1,147.4 515.7,147.1 516.5,146.8 517.3,148.0 517.9,146.4 518.4,146.4 519.0,144.8 519.8,144.5 520.6,143.2 521.5,144.2 522.3,144.1 522.7,145.5 523.1,145.7 523.5,147.0 523.9,147.3 524.4,148.9 525.0,149.1 525.5,150.4 526.1,150.7 526.6,151.9 527.2,152.2 528.0,152.3 528.8,151.2 529.4,152.6 529.9,152.4 530.5,153.6 531.0,152.3 531.6,152.1 532.1,150.5 532.5,150.3 533.0,148.9 533.4,148.9 533.8,147.2 534.3,147.0 534.9,145.6 535.4,145.5 536.0,144.0 536.5,143.9 537.1,142.3 537.5,144.0 537.9,144.0 538.7,144.3 539.5,143.2 539.8,144.7 540.2,144.9 540.5,146.3 540.9,146.5 541.2,147.9 541.4,146.6 541.6,146.2 541.9,144.8 542.1,144.6 542.3,143.4 542.5,143.1 542.7,141.6 542.9,141.5 543.1,139.9 543.3,139.7 543.5,138.1 543.7,138.2 543.9,136.7 544.1,136.3 544.4,134.9 544.7,134.9 545.0,133.3 545.2,133.3 545.5,131.7 545.8,131.6 545.9,130.1 546.1,129.8 546.2,128.4 546.3,128.2 546.5,126.8 546.6,126.7 546.8,125.2 546.9,124.8 547.1,123.5 547.4,123.4 547.6,121.8 547.9,121.5 548.1,120.1 549.4,121.8 549.9,121.7 550.5,123.2 551.0,123.4 551.4,124.9 551.9,125.3 552.3,126.7 552.7,126.7 553.1,128.1 553.5,128.2 553.6,128.0 553.8,126.8 553.9,126.4 554.0,125.2 554.2,124.8 554.3,123.4 555.6,124.9 555.8,125.2 556.0,126.4 556.2,126.8 556.4,128.3 556.6,128.3 556.8,129.7 557.1,129.9 557.3,131.5 557.6,131.7 557.9,133.2 558.1,133.3 558.4,134.9 558.8,133.3 559.2,133.2 559.6,131.7 559.9,133.2 560.1,133.4 560.4,134.8 560.6,135.0 561.7,134.9 561.8,135.1 562.0,136.6 562.1,136.6 562.2,138.2 562.4,138.2 562.5,139.9 562.7,139.8 563.0,141.3 563.2,141.6 563.4,143.0 563.7,143.1 563.9,144.7 564.0,144.9 564.1,146.1 564.2,146.6 564.3,147.7 564.4,148.2 564.5,149.4 564.6,148.2 564.7,147.8 564.8,146.4 564.9,146.3 565.0,144.6 565.1,144.8 565.2,143.1 565.3,143.2 565.8,143.3 566.4,144.5 566.9,144.6 567.0,144.6 567.2,143.2 567.3,143.1 567.5,141.5 567.6,141.3 567.8,139.9 567.9,139.6 568.1,138.4 568.2,138.1 568.4,136.4 568.5,136.6 568.8,134.9 569.1,134.9 569.3,133.4 569.6,133.1 569.9,131.5 570.1,133.2 570.3,133.2 570.5,134.6 570.6,135.0 570.8,136.4 571.0,136.5 571.2,138.1 571.4,136.5 571.5,136.3 571.7,135.0 571.8,134.9 572.0,133.1 572.1,133.1 572.3,131.8 572.9,131.5 573.4,130.0 574.0,129.8 574.8,128.5 575.6,128.2 575.7,126.7 575.9,126.4 576.0,125.1 576.1,125.0 576.3,123.3 576.4,123.1 576.5,121.8 576.7,121.4 576.8,120.0 576.9,120.0 577.0,118.6 577.2,118.3 577.3,116.8 577.4,116.7 577.5,115.3 577.7,115.0 577.8,113.6 578.0,115.2 578.2,115.3 578.3,116.7 578.5,116.9 578.7,118.2 578.9,118.5 579.0,119.9 579.2,120.2 579.4,121.6 579.8,121.9 580.2,123.4 580.6,123.5 581.0,124.9 581.2,123.4 581.4,123.3 581.6,121.8 581.8,121.7 582.0,120.3 582.2,120.1 582.3,118.7 582.4,118.3 582.5,116.8 582.6,116.9 582.7,115.2 582.8,115.0 582.9,113.6 583.0,113.3 583.1,113.5 583.2,115.0 583.3,115.4 583.4,116.8 583.5,116.9 583.6,118.4 583.7,118.6 583.8,120.2 583.9,120.2 583.9,121.8 584.0,121.9 584.0,123.3 584.1,123.5 584.1,125.0 584.2,125.0 584.2,126.5 584.3,126.7 584.4,128.3 584.4,128.4 584.5,129.9 584.5,130.0 584.6,131.6 584.6,131.7 584.7,133.1 584.8,133.5 584.9,134.9 584.9,134.8 585.0,136.4 585.1,136.4 585.2,138.2 585.3,138.3 585.3,139.8 585.4,139.9 585.5,141.3 585.6,141.6 585.7,142.9 585.8,143.3 585.9,144.5 586.0,144.9 586.0,146.2 586.1,146.6 586.2,147.8 586.3,148.0 586.4,149.5 586.5,149.8 586.6,151.3 587.7,150.8 588.8,151.9 589.6,150.9 590.4,151.1 591.2,149.6 591.8,151.4 592.3,151.4 592.9,152.8 593.4,151.5 594.0,151.4 594.5,149.7 595.4,151.2 596.2,151.3 596.7,151.1 597.3,149.7 597.8,149.7 598.1,148.2 598.4,147.9 598.6,146.5 598.9,146.4 599.2,144.7 599.5,144.7 599.7,143.2 599.9,142.8 600.1,141.5 600.3,141.3 600.5,139.9 600.7,139.5 600.9,138.1 601.1,138.0 601.5,136.6 602.0,136.5 602.4,134.8 602.6,136.5 602.9,136.6 603.1,138.2 603.4,138.3 603.6,139.9 603.9,140.1 604.2,141.5 604.6,141.5 604.9,143.0 605.2,143.0 605.8,144.4 606.5,143.9 607.1,146.6 607.7,144.8 608.5,146.1 609.3,143.1 609.9,144.6 610.4,141.4 611.0,143.0 611.8,140.7 612.6,141.7 613.5,140.1 614.3,140.7 615.1,138.9 615.9,140.0 616.7,137.2 617.5,137.9 618.1,135.5 618.8,136.7 620.0,135.2 620.8,136.3 621.6,134.1 622.4,136.2 623.2,133.1 623.8,134.6 624.5,132.7 625.1,134.4 625.8,131.6 626.4,133.3 627.1,130.0 627.7,132.6 628.4,128.8 629.0,131.6 629.7,128.6 630.5,130.9 631.4,128.0 632.2,129.7 633.0,128.1 633.8,129.7 634.6,126.9 635.5,128.2 636.3,125.9 637.1,127.8 638.0,125.2 638.8,127.1 639.6,124.1 640.3,126.2 640.9,122.5 641.6,125.7 642.2,122.4 642.9,124.6 643.7,121.5 644.5,123.9 645.4,121.1 646.2,122.3 647.0,119.1 647.9,121.9 648.7,118.6 649.5,120.5 650.1,118.3 650.8,120.2 651.4,117.1 652.1,117.9 652.7,115.3 653.4,117.6 654.1,114.1 654.8,117.0 655.5,113.1 656.2,115.5 656.9,113.9" fill="none" stroke="#00d600" stroke-width="2.3" stroke-linejoin="round"/>
<line x1="565" y1="47" x2="583" y2="47" stroke="#878c8c" stroke-width="2.3"/>
<line x1="565" y1="62" x2="583" y2="62" stroke="#00d600" stroke-width="2.3"/>
<!-- chart 2 -->
<g stroke="#cbcbcb" stroke-width="1.4"><line x1="435.66" y1="299.2" x2="435.66" y2="420.0"/><line x1="458.86" y1="299.2" x2="458.86" y2="420.0"/><line x1="475.32" y1="299.2" x2="475.32" y2="420.0"/><line x1="488.09" y1="299.2" x2="488.09" y2="420.0"/><line x1="498.52" y1="299.2" x2="498.52" y2="420.0"/><line x1="507.34" y1="299.2" x2="507.34" y2="420.0"/><line x1="514.98" y1="299.2" x2="514.98" y2="420.0"/><line x1="521.72" y1="299.2" x2="521.72" y2="420.0"/><line x1="567.41" y1="299.2" x2="567.41" y2="420.0"/><line x1="590.61" y1="299.2" x2="590.61" y2="420.0"/><line x1="607.07" y1="299.2" x2="607.07" y2="420.0"/><line x1="619.84" y1="299.2" x2="619.84" y2="420.0"/><line x1="630.27" y1="299.2" x2="630.27" y2="420.0"/><line x1="639.09" y1="299.2" x2="639.09" y2="420.0"/><line x1="646.73" y1="299.2" x2="646.73" y2="420.0"/><line x1="653.47" y1="299.2" x2="653.47" y2="420.0"/><line x1="527.75" y1="299.2" x2="527.75" y2="420.0"/><line x1="396.0" y1="329.4" x2="659.5" y2="329.4"/><line x1="396.0" y1="359.5" x2="659.5" y2="359.5"/><line x1="396.0" y1="389.8" x2="659.5" y2="389.8"/></g><rect x="396.0" y="299.2" width="263.50" height="120.80" fill="none" stroke="#c2c2c2" stroke-width="1.9"/>
<polyline points="458.5,327.3 459.2,327.1 460.0,328.3 460.7,327.9 461.5,328.8 462.4,328.7 463.2,329.5 464.0,328.7 464.8,329.0 465.6,328.1 466.4,328.1 467.3,326.9 468.1,326.9 468.9,326.0 469.7,326.5 470.5,325.4 471.6,325.8 472.7,325.3 472.8,324.9 472.8,323.4 472.9,323.5 473.0,321.8 473.1,321.8 473.1,320.1 473.2,320.2 473.3,318.5 473.4,318.3 473.4,316.8 473.5,316.7 473.7,315.2 474.0,315.1 474.2,313.6 474.5,313.4 474.7,312.0 475.5,313.4 476.3,313.8 476.5,315.3 476.8,315.2 477.0,316.9 477.2,316.9 477.4,318.4 477.7,318.5 477.9,319.9 478.2,320.1 478.5,321.7 478.8,322.0 479.0,323.3 479.3,323.5 479.6,324.9 479.8,323.6 480.0,323.4 480.3,321.9 480.5,321.6 480.7,320.3 480.9,320.0 481.2,318.7 481.4,318.3 481.6,317.0 481.8,316.6 482.0,315.3 482.2,315.3 482.5,313.7 482.7,313.5 482.9,311.8 483.7,312.9 484.5,313.0 484.6,314.5 484.6,314.4 484.7,316.0 484.7,316.3 484.8,317.6 484.8,317.7 484.9,319.4 484.9,319.3 485.0,320.8 485.0,321.0 485.1,322.5 485.1,322.6 485.2,324.1 485.2,324.2 485.3,325.9 485.8,324.2 486.2,324.0 486.4,322.6 486.6,322.5 486.7,321.0 486.9,320.8 487.1,319.3 487.3,319.1 487.4,317.8 487.6,317.4 487.8,316.0 488.6,316.2 489.5,315.4 489.7,316.6 490.0,316.9 490.2,318.4 490.4,318.6 490.6,319.9 490.9,320.3 491.1,321.7 491.4,322.0 491.6,323.2 491.9,323.4 492.1,324.9 492.4,325.2 492.5,324.9 492.7,323.5 492.8,323.2 492.9,321.9 493.1,321.7 493.2,320.1 493.3,319.9 493.5,318.7 493.6,318.4 493.7,316.8 493.8,316.8 493.9,315.3 494.0,315.2 494.1,313.7 494.3,313.3 494.4,312.0 494.5,312.0 494.6,310.3 494.7,310.1 494.9,308.7 495.1,308.7 495.4,307.2 495.6,306.9 495.8,305.5 496.0,305.1 496.6,303.8 497.3,303.5 497.4,303.8 497.5,305.1 497.6,305.5 497.7,306.8 497.8,307.0 497.8,308.6 497.9,308.9 498.0,310.3 498.1,310.5 498.2,311.8 498.3,312.0 498.3,313.4 498.4,313.7 498.5,315.1 498.5,315.4 498.6,316.9 498.7,317.1 498.7,318.5 498.8,318.7 498.8,320.0 498.9,320.3 499.0,321.5 499.0,322.0 499.1,323.3 499.2,323.5 499.2,325.1 499.3,325.0 499.7,326.5 500.1,326.8 500.6,328.2 501.0,328.4 501.8,328.6 502.6,327.4 502.8,329.1 503.0,329.4 503.2,330.5 503.4,331.0 503.5,332.5 503.6,332.7 503.8,334.0 503.9,334.2 504.0,335.6 504.1,335.7 504.2,337.2 504.4,337.4 504.5,339.1 504.6,339.0 505.2,339.0 505.9,337.3 506.2,337.3 506.6,335.8 507.0,337.4 507.3,337.4 507.6,339.1 508.0,339.3 508.6,338.8 509.1,337.5 509.7,338.8 510.2,338.6 510.8,339.8 511.0,339.8 511.2,341.4 511.4,341.8 511.5,342.9 511.7,343.4 511.9,344.8 512.1,345.0 512.3,346.4 512.5,346.4 512.6,348.2 512.8,348.0 513.0,349.6 513.2,349.7 513.8,351.4 514.3,351.4 514.9,352.9 515.2,353.0 515.5,354.4 515.9,354.8 516.2,356.4 516.5,356.4 516.8,357.8 517.2,357.9 517.5,359.5 517.9,359.8 518.2,361.0 519.0,361.4 519.8,362.8 520.3,362.8 520.9,364.3 521.4,364.5 522.0,366.2 522.5,366.3 523.1,367.9 523.9,367.4 524.7,368.5 525.5,368.4 526.4,369.3 526.8,369.4 527.2,371.0 527.6,371.3 528.0,372.6 528.6,372.8 529.1,374.2 529.7,374.4 531.0,374.2 531.2,372.7 531.4,372.5 531.5,371.3 531.7,371.0 531.9,369.6 532.1,369.5 532.3,367.9 532.4,367.7 532.6,366.1 532.8,366.0 533.0,364.5 533.1,364.5 533.3,363.0 533.5,363.0 533.7,361.5 533.9,361.3 534.0,359.8 534.2,359.6 534.4,358.1 534.6,357.7 535.1,356.4 535.7,356.4 536.2,354.9 536.6,354.6 537.0,353.1 537.5,352.9 537.9,351.5 538.4,351.1 539.0,349.8 539.5,349.7 539.8,348.2 540.0,347.9 540.3,346.7 540.5,346.4 540.8,344.9 541.6,344.9 542.5,343.2 542.9,343.0 543.2,341.5 543.6,341.6 543.9,339.8 544.2,339.9 544.5,338.2 544.8,338.2 545.1,336.6 545.3,336.5 545.6,335.1 545.8,334.7 546.1,333.3 546.3,333.2 546.5,331.9 546.8,331.6 547.0,330.1 547.2,330.8 547.4,327.3 547.5,329.6 547.6,326.1 547.8,327.9 547.9,324.3 548.0,325.9 548.1,322.7 548.9,325.0 549.7,321.6 550.4,324.0 551.2,320.9 551.9,322.8 552.7,319.6 553.5,322.5 554.3,320.0 555.1,321.5 556.0,319.5 556.8,321.6 557.0,319.8 557.2,323.7 557.3,321.2 557.5,324.9 557.7,323.6 557.9,326.8 558.5,325.1 559.2,327.6 559.6,327.3 560.0,329.3 560.5,328.8 560.9,331.1 561.4,329.9 562.0,332.7 562.5,331.6 562.8,334.4 563.1,333.9 563.4,336.7 563.6,335.7 563.9,337.5 564.2,337.3 564.4,339.1 564.7,338.7 564.9,340.9 565.3,340.5 565.8,342.4 566.2,341.7 566.6,344.1 567.4,342.5 568.2,343.7 569.0,341.0 569.9,343.0 570.2,340.0 570.5,341.4 570.9,338.2 571.2,339.9 571.6,338.9 571.9,340.7 572.3,340.1 573.1,342.4 574.0,341.0 574.8,342.7 575.6,340.5 575.8,341.4 576.1,338.6 576.3,339.4 576.6,337.1 576.8,337.7 577.1,335.1 577.3,336.3 577.8,333.2 578.4,334.4 578.9,331.8 579.7,333.0 580.5,331.0 581.1,332.1 581.6,329.7 582.2,331.8 583.0,328.9 583.8,330.0 584.1,329.0 584.4,331.2 584.7,330.8 585.0,332.4 585.1,332.7 585.2,334.1 585.3,334.2 585.4,335.7 585.5,335.8 585.6,337.2 585.7,337.5 585.8,338.9 585.9,339.3 586.0,340.7 586.1,340.9 586.2,342.1 586.3,342.3 586.5,344.0 586.7,344.0 586.9,345.5 587.1,345.8 587.3,347.0 587.5,347.3 587.7,348.7 587.9,349.1 588.1,350.6 588.3,350.8 588.5,352.1 588.8,352.2 589.0,353.8 589.2,354.1 589.4,355.5 589.6,355.6 589.8,357.1 590.0,357.1 590.2,358.8 590.4,358.8 590.6,360.4 590.8,360.5 591.0,362.0 591.2,362.1 591.4,363.7 591.6,363.8 591.8,365.1 592.0,365.3 592.3,366.8 592.5,367.1 592.7,368.4 592.9,368.7 593.3,370.1 593.7,370.2 594.1,371.8 594.5,372.0 594.6,371.9 594.6,370.4 594.7,370.2 594.8,368.6 594.9,368.6 594.9,367.0 595.0,367.0 595.1,365.4 595.2,365.3 595.2,363.9 595.3,363.5 595.5,363.8 595.6,365.3 595.8,365.3 596.0,366.7 596.2,367.1 596.3,368.6 596.5,368.7 597.3,370.3 598.1,370.5 598.2,370.3 598.3,368.8 598.4,368.6 598.5,367.3 598.6,366.9 598.7,365.3 598.8,365.4 598.8,363.8 598.9,363.6 599.0,362.3 599.1,362.1 599.2,360.6 599.3,360.4 599.4,358.9 599.5,358.7 599.6,358.8 599.7,360.2 599.8,360.4 599.8,361.9 599.9,362.0 600.0,363.7 600.1,363.8 600.2,365.4 600.3,365.5 600.4,366.9 600.5,367.2 600.5,368.7 600.6,368.7 600.7,370.1 600.8,370.5 600.9,370.2 601.0,368.6 601.1,368.7 601.1,367.1 601.2,366.7 601.3,365.3 601.4,365.2 601.5,363.7 601.6,363.6 601.6,362.0 601.7,361.8 601.8,360.4 601.9,360.4 602.8,360.6 603.6,361.9 603.7,362.2 603.9,363.6 604.0,363.6 604.2,365.3 604.3,365.4 604.5,366.9 604.6,367.2 604.8,368.5 604.9,368.9 605.1,370.3 605.2,370.5 606.0,371.4 606.9,371.3 607.7,371.3 608.5,370.3 609.3,370.1 610.3,369.1 611.3,369.4 611.3,367.7 611.4,367.8 611.4,366.0 611.5,365.9 611.5,364.5 611.6,364.5 611.6,363.1 611.7,362.7 611.7,361.4 611.8,361.2 611.8,359.6 611.8,359.6 611.9,358.0 611.9,357.7 612.0,356.3 612.0,356.2 612.1,354.9 612.1,354.6 612.2,353.2 612.2,352.9 612.3,351.5 612.3,351.4 612.4,351.6 612.4,352.9 612.5,353.2 612.5,354.7 612.6,354.7 612.6,356.2 612.7,356.3 612.7,357.9 612.8,358.2 612.8,359.4 612.9,359.7 613.0,361.3 613.0,361.3 613.1,362.6 613.1,362.9 613.2,364.5 613.2,364.6 613.3,366.0 613.3,366.3 613.4,367.8 614.2,366.6 615.1,366.5 615.9,365.3 616.1,365.3 616.2,364.0 616.4,363.9 616.6,362.4 616.7,362.1 616.9,360.6 617.1,360.6 617.2,358.9 617.4,358.8 617.5,359.2 617.6,360.9 617.6,361.0 617.7,362.7 617.8,362.9 617.9,364.5 618.4,362.8 619.0,362.7 619.5,361.2 620.2,361.2 620.8,359.7 621.5,359.9 621.8,359.8 622.2,361.4 622.5,361.4 622.9,362.9 623.2,363.0 623.8,362.9 624.4,361.8 624.9,361.7 625.5,360.3 625.5,360.1 625.6,358.7 625.6,358.6 625.7,357.3 625.8,356.9 625.8,355.5 625.9,355.4 625.9,354.1 626.0,353.8 626.0,352.2 626.0,352.2 626.1,350.7 626.1,350.6 626.2,349.3 626.2,349.1 626.3,347.7 626.4,347.3 626.4,345.9 626.4,347.5 626.5,347.7 626.5,349.2 626.6,349.3 626.6,350.5 626.7,350.8 626.7,352.3 626.8,352.3 626.8,353.9 626.8,354.0 626.9,355.6 626.9,355.7 627.0,357.2 627.0,357.3 627.1,358.5 627.1,358.7 627.2,360.3 627.2,360.3 627.8,360.3 628.5,359.0 629.1,359.2 629.7,358.1 630.5,358.1 631.4,357.0 632.2,357.2 633.0,356.4 633.8,356.5 634.6,355.3 635.5,355.8 636.3,354.6 637.0,354.9 637.6,353.8 638.3,353.9 638.9,352.8 639.6,353.0 640.3,351.5 640.9,351.7 641.6,350.7 642.2,350.8 642.9,349.9 643.6,349.9 644.2,348.5 644.9,348.4 645.5,347.1 646.2,347.0 647.0,346.1 647.9,346.3 648.7,345.1 649.5,345.3 650.3,344.2 651.1,344.5 651.9,343.7 652.7,343.8 653.5,342.9 654.4,342.8 655.2,341.8 656.0,342.1 656.8,341.2 657.6,341.3 658.5,340.4 659.3,340.2" fill="none" stroke="#989c9c" stroke-width="2.1" stroke-linejoin="round"/>
<polyline points="458.5,365.1 459.2,365.1 460.0,366.4 460.7,366.1 461.5,367.0 462.4,366.7 463.2,367.5 463.8,366.2 464.4,366.3 465.0,365.1 465.6,365.2 466.4,363.9 467.3,364.0 468.1,363.1 468.9,363.6 469.7,362.7 470.5,363.0 470.9,361.7 471.4,361.8 471.8,360.5 472.2,360.3 472.4,358.8 472.7,358.6 472.9,357.1 473.1,356.9 473.3,355.6 473.6,355.2 473.8,354.0 474.1,353.9 474.4,352.3 474.6,352.3 474.9,350.7 475.2,350.5 475.5,348.9 475.7,348.9 476.0,347.5 476.3,347.3 477.6,345.6 477.9,347.0 478.2,347.5 478.5,349.0 478.7,349.0 479.0,350.4 479.3,350.7 479.8,350.4 480.2,348.9 480.7,348.9 481.2,347.5 481.8,347.3 482.3,345.9 482.9,345.4 483.4,345.9 484.0,347.3 484.5,347.5 485.1,348.8 485.8,349.1 486.0,348.8 486.2,347.3 486.4,347.2 486.6,345.7 486.8,345.5 487.0,344.1 487.2,343.9 487.5,342.6 487.7,342.2 487.9,340.9 488.1,340.7 488.4,338.9 488.6,338.8 489.5,338.0 490.3,338.2 491.9,337.4 492.5,338.8 493.0,339.1 493.6,340.8 493.8,339.2 493.9,338.9 494.1,337.5 494.2,337.5 494.4,335.9 494.5,335.6 494.7,334.3 494.8,334.1 494.9,332.6 495.0,332.3 495.1,330.9 495.2,330.6 495.4,329.3 495.5,329.3 495.6,327.6 495.7,327.4 495.8,325.9 495.9,325.8 496.0,324.5 496.2,324.0 496.4,322.8 496.5,322.4 496.7,321.1 496.9,321.0 497.2,321.1 497.4,322.4 497.7,322.6 498.0,324.3 498.1,324.4 498.2,325.9 498.2,326.0 498.3,327.4 498.4,327.6 498.5,329.2 498.5,329.1 498.6,330.7 498.7,330.8 498.8,332.3 498.8,332.6 498.9,334.2 499.0,334.2 499.1,335.7 499.2,335.9 499.3,337.5 499.4,337.4 499.5,338.9 499.6,339.0 499.7,340.6 499.8,340.8 499.9,342.2 500.0,342.6 500.1,343.8 500.5,344.0 501.0,345.4 501.4,345.8 501.8,347.2 502.2,347.4 502.5,348.8 502.9,348.9 503.1,350.4 503.4,350.7 503.6,352.0 503.8,352.4 504.1,353.6 504.3,354.0 504.7,353.8 505.2,352.4 505.6,352.2 506.0,352.4 506.3,353.8 506.7,353.8 506.9,355.3 507.1,355.4 507.2,357.0 507.4,357.1 507.6,358.5 507.8,358.8 507.9,360.2 508.1,360.5 508.3,362.1 509.1,360.9 510.0,361.2 510.8,360.4 511.3,362.1 511.9,362.1 512.4,363.5 513.2,362.4 514.0,362.8 514.6,362.8 515.1,364.6 515.7,364.5 516.5,366.2 517.3,366.4 518.1,367.8 519.0,367.9 519.8,369.2 520.6,369.6 521.5,370.7 522.3,370.5 523.1,371.8 523.9,371.9 524.4,373.5 525.0,373.6 525.5,375.1 526.4,375.1 527.2,376.6 528.0,376.5 528.8,377.7 529.6,377.1 530.5,377.8 531.3,377.1 532.1,377.8 532.4,376.0 532.7,376.1 533.0,374.4 533.2,374.3 533.5,372.8 533.8,372.6 534.2,371.0 534.6,370.8 535.0,369.6 535.4,369.5 536.0,367.8 536.5,367.8 537.1,366.1 537.9,366.1 538.7,364.5 540.3,365.2 541.1,364.4 542.0,365.1 542.4,363.8 542.8,363.6 543.2,362.0 543.6,361.9 543.9,360.4 544.3,360.4 544.6,358.8 545.0,358.5 545.3,357.3 545.6,357.1 545.8,355.6 546.1,355.3 546.4,353.9 546.6,353.6 546.9,352.4 547.2,352.0 547.6,350.7 547.9,350.6 548.3,349.1 548.6,348.7 548.8,347.2 549.1,347.2 549.3,345.9 549.5,345.6 549.7,344.0 550.0,343.9 550.2,342.3 551.0,343.1 551.9,341.3 552.5,343.9 553.0,342.6 553.1,345.5 553.3,344.6 553.4,346.8 553.6,345.8 553.7,348.5 553.9,347.5 554.0,350.2 554.4,347.3 554.7,348.5 555.1,346.0 555.7,348.9 556.2,347.8 556.8,349.9 557.6,347.9 558.4,349.1 559.2,348.0 560.1,350.8 560.9,348.0 561.6,349.4 561.9,348.7 562.3,351.1 562.6,349.9 563.0,352.7 563.3,351.6 563.6,354.2 563.8,352.9 564.1,355.6 564.4,354.7 564.6,357.1 564.9,356.6 565.0,357.2 565.2,355.3 565.3,356.0 565.4,352.9 565.5,354.1 565.7,351.8 565.8,352.6 565.9,349.9 566.1,350.9 566.2,348.5 566.6,349.8 567.0,346.7 567.4,347.7 567.5,346.5 567.6,349.9 567.8,348.5 567.9,350.6 568.0,350.2 568.1,353.1 568.3,352.0 568.4,354.0 568.5,353.0 568.6,355.6 568.7,354.6 568.7,357.3 568.8,356.7 568.9,359.3 569.0,358.6 569.0,361.1 569.1,359.9 569.2,362.8 569.3,361.3 569.3,363.7 569.4,362.9 569.5,366.1 569.6,363.4 569.6,364.3 569.7,361.8 569.8,362.6 569.9,359.7 569.9,360.8 570.0,358.2 570.1,358.9 570.1,356.3 570.2,357.8 570.3,354.7 570.3,355.6 570.4,353.1 570.5,354.0 570.6,351.7 570.6,352.5 570.7,349.7 570.9,350.7 571.1,348.5 571.4,349.4 571.6,346.9 571.8,347.4 571.8,346.6 571.9,349.9 571.9,348.6 572.0,351.5 572.0,350.3 572.1,352.5 572.1,351.8 572.1,354.8 572.2,353.1 572.2,356.2 572.3,355.5 572.3,357.6 572.4,357.1 572.4,358.9 572.5,358.4 572.5,360.7 572.5,360.3 572.6,362.6 572.6,361.3 572.7,364.7 572.7,362.8 572.8,365.8 572.8,365.2 573.0,366.3 573.2,363.3 573.4,364.1 573.6,361.2 573.8,362.6 574.0,359.4 574.2,361.1 574.4,357.8 574.6,358.9 574.8,356.2 575.0,357.6 575.2,354.7 575.4,355.7 575.6,353.5 575.7,354.1 575.8,352.0 576.0,353.1 576.1,350.4 576.2,350.8 576.3,348.2 576.4,349.1 576.6,347.0 576.7,347.5 576.8,345.4 577.1,347.3 577.5,346.5 577.8,349.5 578.1,348.6 578.3,349.8 578.4,346.7 578.6,347.5 578.8,344.6 578.9,345.8 579.1,343.1 579.2,344.7 579.4,342.3 579.6,344.8 579.8,343.5 580.0,346.1 580.1,344.7 580.3,347.7 580.5,347.0 580.9,347.3 581.3,344.7 581.7,346.1 582.1,343.2 582.6,344.6 583.0,341.3 583.1,343.2 583.3,339.7 583.4,341.2 583.5,338.1 583.6,339.3 583.8,337.2 583.9,338.0 584.0,335.7 584.2,336.7 584.3,333.8 584.6,336.2 585.0,335.5 585.0,337.8 585.1,336.9 585.1,339.9 585.1,339.0 585.2,341.0 585.2,340.4 585.3,343.3 585.3,341.9 585.3,344.4 585.4,343.0 585.4,346.0 585.4,345.2 585.5,347.6 585.5,347.0 585.5,349.6 585.6,348.6 585.6,351.0 585.7,349.9 585.7,352.9 585.7,351.4 585.8,354.3 585.8,352.8 585.9,356.4 585.9,354.5 586.0,357.1 586.1,357.2 586.2,358.6 586.2,358.7 586.3,360.3 586.4,360.4 586.4,361.9 586.5,362.2 586.6,363.5 586.7,363.7 586.7,365.2 586.8,365.5 586.9,367.0 587.0,367.0 587.1,368.7 587.2,368.7 587.3,370.1 587.3,370.2 587.4,371.7 587.5,372.0 587.6,373.6 587.7,373.5 587.8,375.1 587.9,375.1 588.5,376.8 589.0,376.2 589.6,378.1 590.4,375.6 591.3,377.2 592.1,375.6 593.3,377.4 594.5,375.7 595.3,377.5 596.2,375.3 597.0,376.1 597.8,374.1 598.7,376.1 599.5,374.9 600.3,376.2 601.1,373.7 601.9,375.6 602.7,373.8 603.6,376.1 604.4,373.7 605.2,375.9 606.1,373.8 606.9,375.0 607.7,373.3 608.5,374.8 609.3,372.7 610.1,373.6 611.0,371.5 611.8,373.7 612.6,371.2 613.5,372.7 614.3,370.0 615.1,371.1 615.9,368.9 616.7,370.5 617.5,366.8 618.3,369.5 619.1,366.4 619.9,367.8 620.7,364.6 621.5,367.7 622.4,363.8 623.2,366.3 623.8,363.0 624.5,365.7 625.1,362.1 625.8,364.5 626.4,361.1 627.1,363.5 627.7,360.8 628.4,362.5 629.0,360.2 629.7,361.8 630.5,358.9 631.4,360.3 632.2,357.4 633.0,359.9 633.8,357.2 634.6,359.6 635.5,355.6 636.3,358.1 637.0,355.2 637.6,356.6 638.3,354.5 638.9,356.9 639.6,353.3 640.3,355.9 640.9,352.9 641.6,353.7 642.2,351.9 642.9,352.8 643.6,349.9 644.2,352.7 644.9,348.5 645.5,350.8 646.2,347.7 647.0,349.5 647.9,347.2 648.7,348.6 649.5,346.4 650.3,348.3 651.1,345.0 651.9,347.0 652.7,343.8 653.5,346.0 654.4,342.9 655.2,345.7 656.0,342.4 656.8,344.8 657.6,341.6 658.5,344.4 659.3,342.2" fill="none" stroke="#00d600" stroke-width="2.3" stroke-linejoin="round"/>
<line x1="565" y1="271.5" x2="583" y2="271.5" stroke="#878c8c" stroke-width="2.3"/>
<line x1="565" y1="286.3" x2="583" y2="286.3" stroke="#00d600" stroke-width="2.3"/>
<rect x="399" y="388" width="189" height="19.8" fill="#ffbf12"/>
<!-- arrow -->
<path d="M464.1 335.5V360.5" stroke="#e0041f" stroke-width="2"/>
<polygon points="464.1,329.4 468.1,336 460.1,336" fill="#e0041f"/>
<polygon points="464.1,366.4 468.1,359.8 460.1,359.8" fill="#e0041f"/>
<g font-family="Liberation Sans, Arial, sans-serif"><text x="167" y="157.8" font-size="16" fill="#fff" text-anchor="middle">Charger unit</text><text x="23" y="212.0" font-size="16" fill="#51585a" text-anchor="start">Power</text><text x="23" y="229.5" font-size="16" fill="#51585a" text-anchor="start">supply</text><text x="23" y="247.0" font-size="16" fill="#51585a" text-anchor="start">cable</text><text x="258.7" y="220.5" font-size="16" fill="#51585a" text-anchor="middle">Transmitter coil</text><text x="106.8" y="277.6" font-size="16" fill="#51585a" text-anchor="middle" transform="rotate(90 106.8 277.6)">Inverter</text><text x="166.2" y="277.9" font-size="13.8" fill="#51585a" text-anchor="middle" transform="rotate(90 166.2 277.9)">Measures (2)</text><text x="133.6" y="354.5" font-size="15" fill="#fff" text-anchor="middle">Noise source</text><text x="31.6" y="481.6" font-size="13.9" fill="#51585a" text-anchor="start">*Capacitor capacitance 1000pF</text><text x="395.2" y="63.9" font-size="11.9" fill="#51585a" text-anchor="start">Horizontally-polarized wave</text><text x="588.4" y="51.6" font-size="12" fill="#8c9091" text-anchor="start">No measures</text><text x="588.4" y="65.3" font-size="12" fill="#00d600" text-anchor="start">Measures (2)</text><text x="389.3" y="191.9" font-size="12" fill="#51585a" text-anchor="end">0</text><text x="389.3" y="163.2" font-size="12" fill="#51585a" text-anchor="end">10</text><text x="389.3" y="134.4" font-size="12" fill="#51585a" text-anchor="end">20</text><text x="389.3" y="105.6" font-size="12" fill="#51585a" text-anchor="end">30</text><text x="389.3" y="76.9" font-size="12" fill="#51585a" text-anchor="end">40</text><text x="395.2" y="207.60000000000002" font-size="12" fill="#51585a" text-anchor="middle">10</text><text x="527" y="207.60000000000002" font-size="12" fill="#51585a" text-anchor="middle">100</text><text x="656.1" y="207.60000000000002" font-size="12" fill="#51585a" text-anchor="middle">1000</text><text x="527" y="231.3" font-size="14.2" fill="#51585a" text-anchor="middle">Frequency [MHz]</text><text x="395.2" y="288.7" font-size="11.9" fill="#51585a" text-anchor="start">Vertically-polarized wave</text><text x="588.4" y="276.40000000000003" font-size="12" fill="#8c9091" text-anchor="start">No measures</text><text x="588.4" y="290.1" font-size="12" fill="#00d600" text-anchor="start">Measures (2)</text><text x="389.3" y="423.4" font-size="12" fill="#51585a" text-anchor="end">0</text><text x="389.3" y="393.2" font-size="12" fill="#51585a" text-anchor="end">10</text><text x="389.3" y="363.1" font-size="12" fill="#51585a" text-anchor="end">20</text><text x="389.3" y="333.0" font-size="12" fill="#51585a" text-anchor="end">30</text><text x="389.3" y="302.8" font-size="12" fill="#51585a" text-anchor="end">40</text><text x="395.4" y="439.1" font-size="12" fill="#51585a" text-anchor="middle">10</text><text x="526.9" y="439.1" font-size="12" fill="#51585a" text-anchor="middle">100</text><text x="656.5" y="439.1" font-size="12" fill="#51585a" text-anchor="middle">1000</text><text x="527" y="462.8" font-size="14.2" fill="#51585a" text-anchor="middle">Frequency [MHz]</text><text x="366.4" y="129.5" font-size="13.7" fill="#51585a" text-anchor="middle" transform="rotate(-90 366.4 129.5)">Noise level [dBuV/m]</text><text x="366.4" y="359.4" font-size="13.7" fill="#51585a" text-anchor="middle" transform="rotate(-90 366.4 359.4)">Noise level [dBuV/m]</text><text x="405.4" y="403.0" font-size="13.8" fill="#3d4c60" text-anchor="start">Improvements of up to 12 dB</text></g>
</svg>
</body></html>
